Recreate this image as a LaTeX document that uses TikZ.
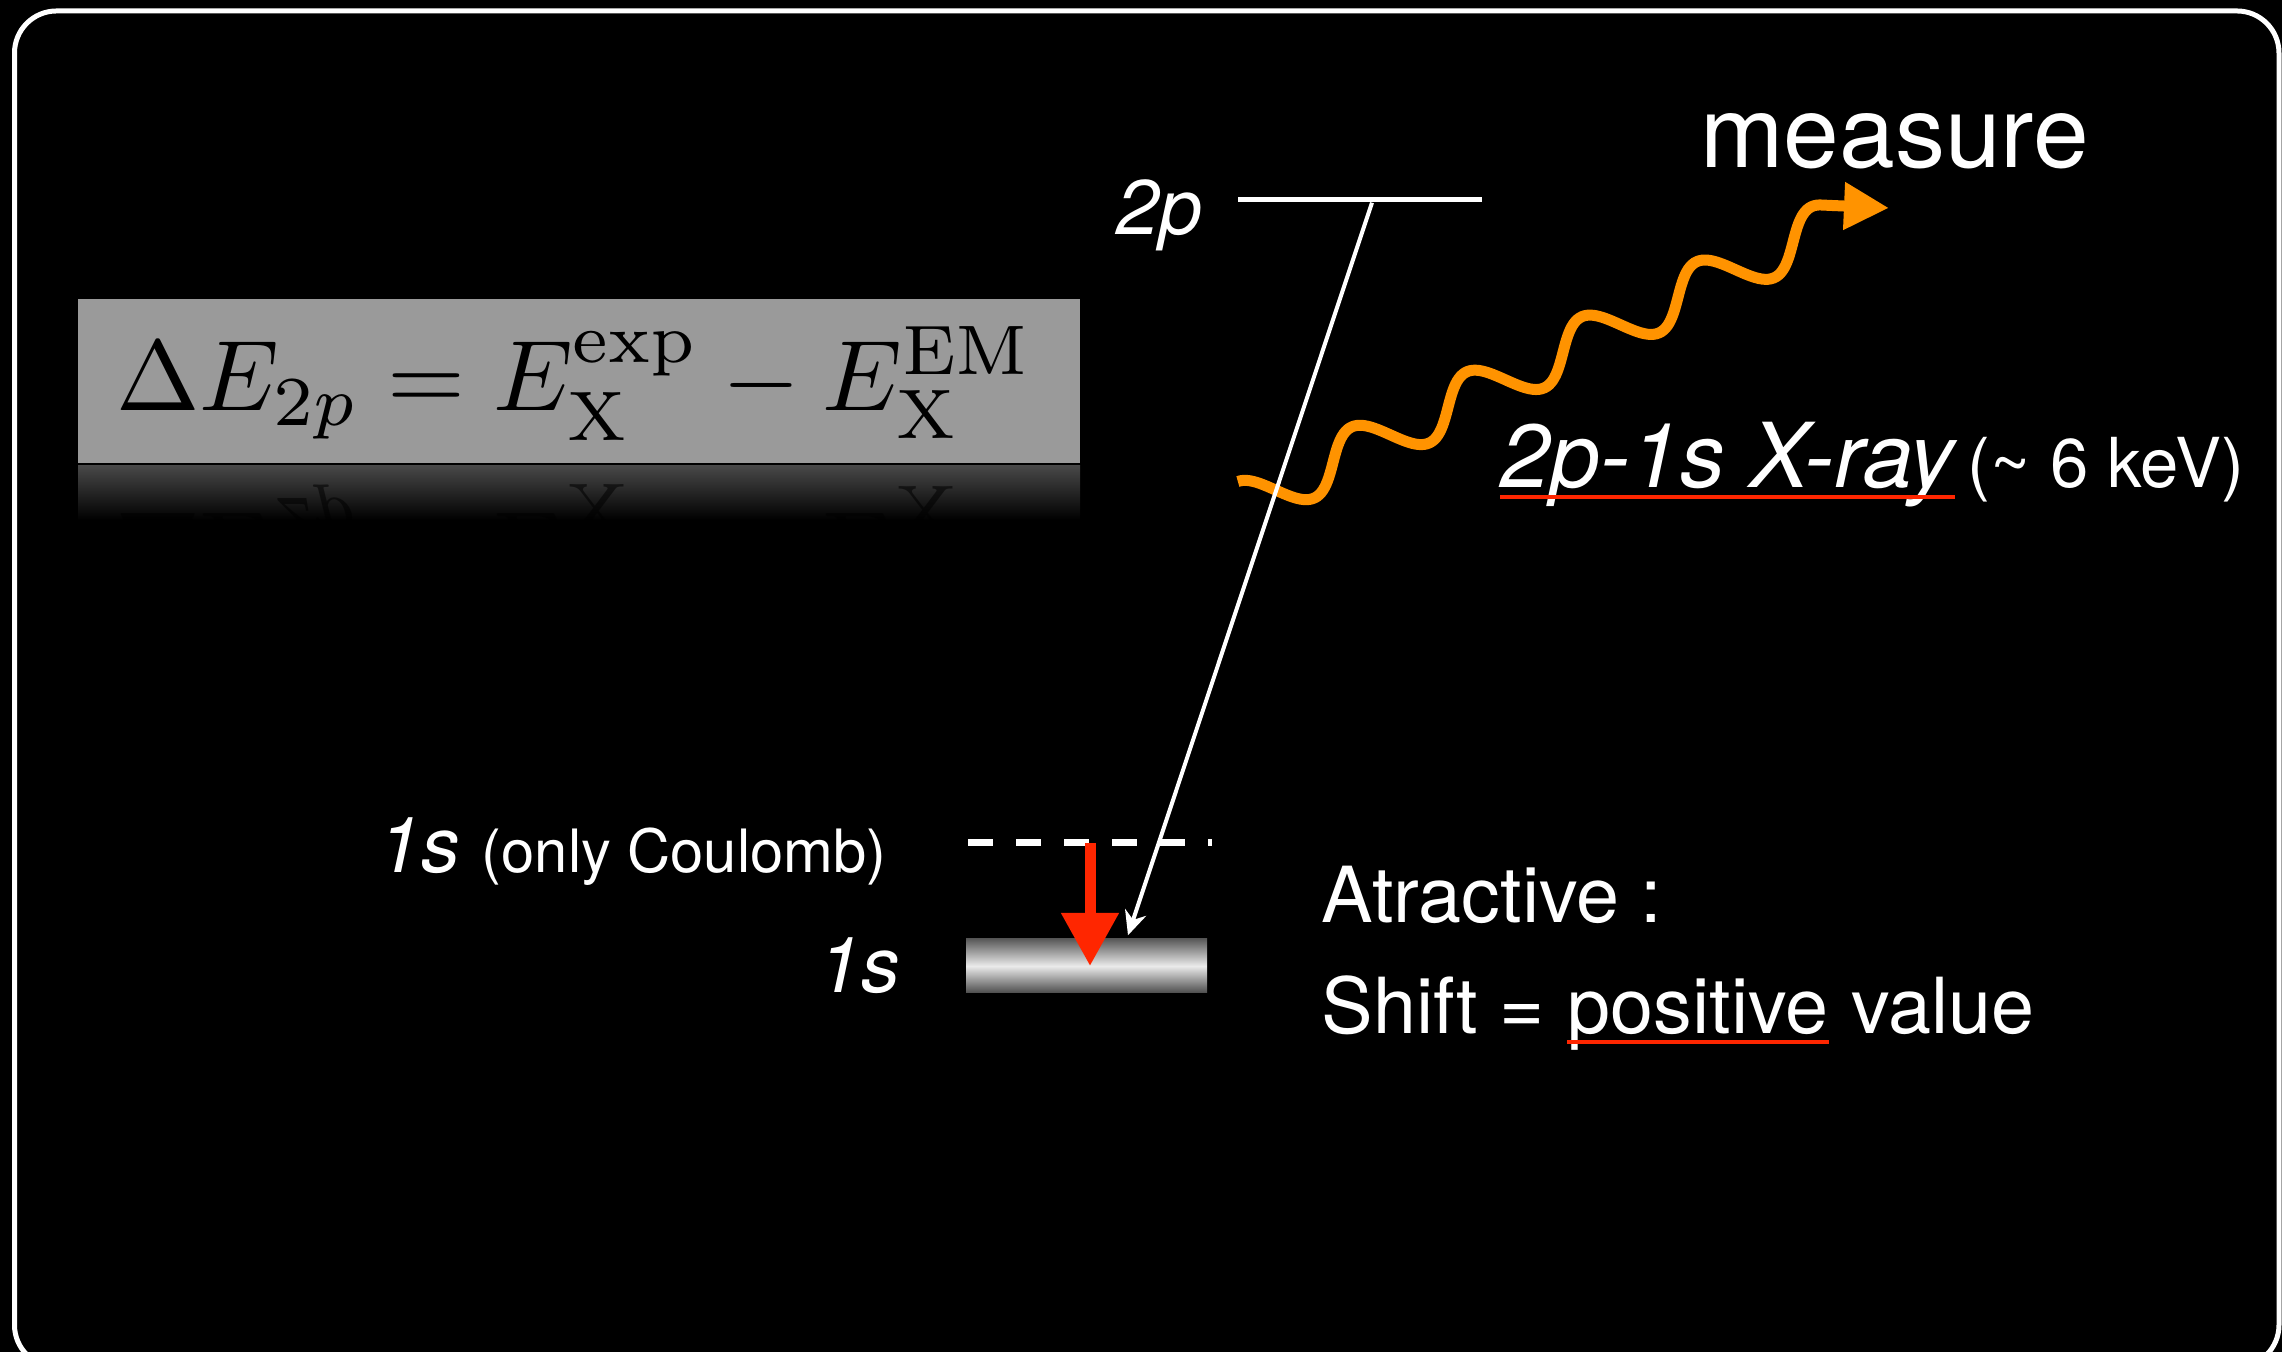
\documentclass[tikz,border=0pt]{standalone}
\usepackage{fix-cm}
\usepackage[no-math]{fontspec}
\setmainfont{TeX Gyre Heros}
\usepackage{tikz}
\usetikzlibrary{arrows.meta,positioning}
\definecolor{keyorange}{RGB}{255,147,0}
\definecolor{keyred}{RGB}{255,38,0}
\definecolor{boxgray}{RGB}{154,154,154}

\begin{document}
\begin{tikzpicture}[
  txt/.style={text=white,inner sep=0pt,font=\fontsize{22}{26}\selectfont},
  eqfont/.style={inner sep=0pt,font=\fontsize{10}{12}\selectfont,scale=2.85},
  level/.style={fill=white,inner sep=0pt,minimum height=0.05cm},
  redline/.style={draw=keyred,line width=0.04cm},
  trans/.style={-{Stealth[length=0.24cm,width=0.22cm]},draw=white,line width=0.04cm},
  shiftarrow/.style={-{Triangle[length=0.53cm,width=0.55cm]},draw=keyred,line width=0.11cm},
  photon/.style={-{Triangle[length=0.45cm,width=0.45cm]},draw=keyorange,line width=0.11cm}
]
  \useasboundingbox (0,0) rectangle (22.82,13.52);
  \fill[black] (0,0) rectangle (22.82,13.52);
  \clip (0,0) rectangle (22.82,13.52);
  \draw[white,line width=0.05cm,rounded corners=0.42cm] (0.145,-0.15) rectangle (22.79,13.41);

  % formula box and its reflection
  \node[fill=boxgray,minimum width=10.02cm,minimum height=1.64cm,inner sep=0pt] (eqbox) at (5.79,9.71) {};
  \node[eqfont,anchor=base] (eq) at (5.745,9.41)
    {$\Delta E_{2p} = E_{\mathrm{X}}^{\mathrm{exp}} - E_{\mathrm{X}}^{\mathrm{EM}}$};
  \shade[top color=black!72,bottom color=black] (0.78,8.32) rectangle (10.80,8.86);
  \begin{scope}
    \clip (0.78,8.32) rectangle (10.80,8.86);
    \node[eqfont,anchor=base,yscale=-1,text=black,opacity=0.55] (eqmirror) at (5.745,8.38)
      {$\Delta E_{2p} = E_{\mathrm{X}}^{\mathrm{exp}} - E_{\mathrm{X}}^{\mathrm{EM}}$};
  \end{scope}

  % photon
  \coordinate (meastip) at (18.89,11.44);
  \draw[photon] plot[domain=-0.94:5.533,samples=240,variable=\s]
    ({13.33+0.902*\s-0.432*0.24*sin(282.35*\s)},{8.895+0.432*\s+0.902*0.24*sin(282.35*\s)})
    -- (meastip);
  \node[txt,anchor=base,font=\fontsize{28.5}{34}\selectfont] (meas) at (18.945,11.84) {measure};
  \node[txt,anchor=base west,font=\fontsize{25.5}{30}\selectfont\itshape] (xray) at (15.00,8.64) {2p-1s X-ray};
  \draw[redline] ([yshift=-0.09cm]xray.base west) -- ([yshift=-0.09cm]xray.base east);
  \node[txt,anchor=base west,font=\fontsize{19.6}{23}\selectfont] (kev) at ([xshift=0.12cm]xray.base east)
    {(\textasciitilde\ 6 keV)};

  % levels
  \node[level,minimum width=2.44cm] (lev2p) at (13.60,11.525) {};
  \node[txt,anchor=base east,font=\fontsize{22}{26}\selectfont\itshape] (lbl2p) at (12.03,11.17) {2p};
  \node[inner sep=0pt,minimum width=2.42cm] (levC) at (10.90,5.09) {};
  \draw[white,line width=0.07cm,dash pattern=on 0.25cm off 0.23cm] (levC.west) -- (levC.east);
  \node[inner sep=0pt,minimum width=2.41cm,minimum height=0.54cm,
        top color=black!65,bottom color=black!70,middle color=white!92!black] (bar1s) at (10.865,3.86) {};
  \node[txt,anchor=base west] (lblC) at (3.78,4.79)
    {{\fontsize{22}{26}\selectfont\itshape 1s} {\fontsize{17}{20}\selectfont(only Coulomb)}};
  \node[txt,anchor=base west,font=\fontsize{22}{26}\selectfont\itshape] (lbl1s) at (8.18,3.59) {1s};

  % transitions
  \draw[trans] ([xshift=0.12cm]lev2p.south) -- ([xshift=0.415cm,yshift=0.03cm]bar1s.north);
  \draw[shiftarrow] (levC.center) -- (levC.center |- bar1s.center);

  % conclusion
  \node[txt,anchor=base west] (attr) at (13.21,4.29) {Atractive :};
  \node[txt,anchor=base west] (shiftA) at (13.21,3.18) {Shift = \mbox{}};
  \node[txt,anchor=base west] (pos) at (shiftA.base east) {positive};
  \node[txt,anchor=base west] (val) at (pos.base east) {\mbox{} value};
  \draw[redline] ([yshift=-0.08cm]pos.base west) -- ([yshift=-0.08cm]pos.base east);
\end{tikzpicture}
\end{document}
